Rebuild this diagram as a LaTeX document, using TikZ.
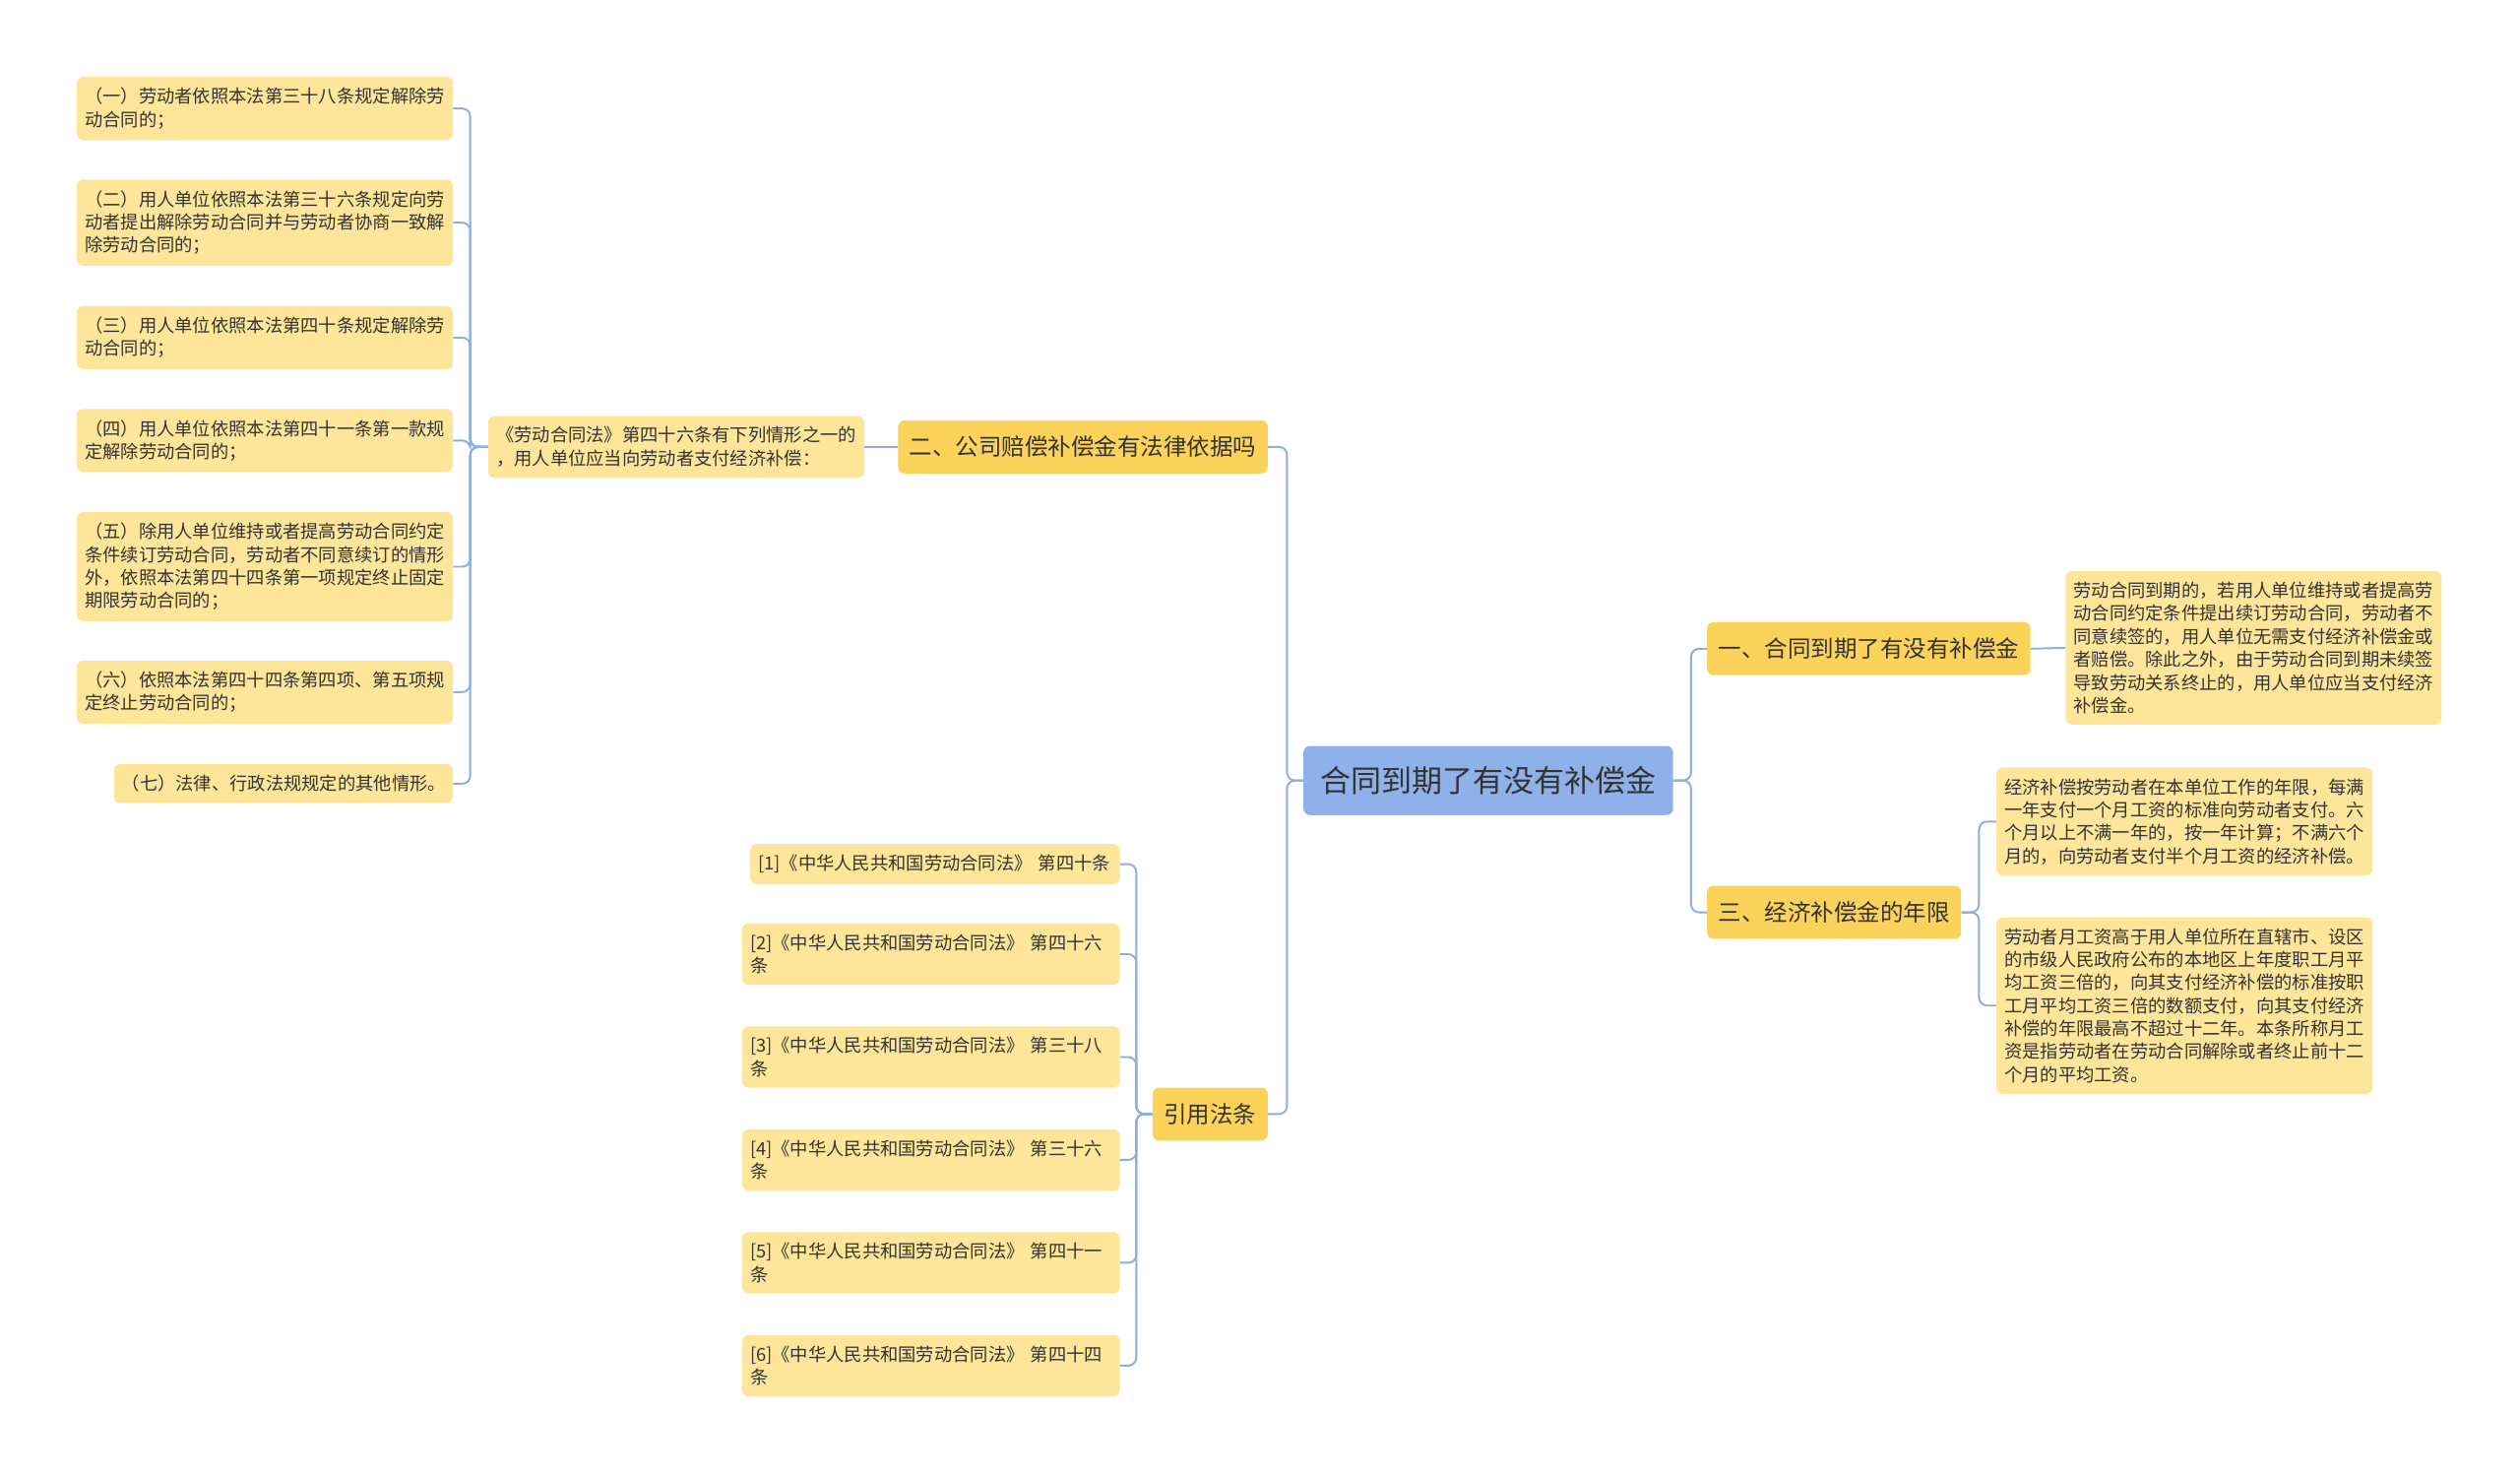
\documentclass[tikz,border=0pt]{standalone}
\usepackage{fontspec}
\setmainfont{Noto Sans CJK SC}
\definecolor{rootblue}{HTML}{8FB1EA}
\definecolor{topicyellow}{HTML}{FCD35A}
\definecolor{leafyellow}{HTML}{FDE699}
\definecolor{linkblue}{HTML}{8DAEE0}
\definecolor{textdark}{HTML}{333333}
\tikzset{
  rootbox/.style={fill=rootblue, rounded corners=4pt, text=textdark,
    font=\fontsize{19}{22}\selectfont, minimum height=43pt, inner xsep=10.5pt},
  topicbox/.style={fill=topicyellow, rounded corners=4pt, text=textdark,
    font=\fontsize{14.4}{17}\selectfont, minimum height=33pt, inner xsep=7pt},
  leafbox/.style={fill=leafyellow, rounded corners=4pt, text=textdark,
    font=\fontsize{11.2}{14.3}\selectfont, align=left, text width=224pt,
    inner xsep=5pt, inner ysep=6.8pt},
  link/.style={draw=linkblue, line width=1.2pt, rounded corners=5pt}
}
\begin{document}
\begin{tikzpicture}[x=1pt,y=-1pt]
\fill[white] (0,0) rectangle (1568,918.2);
\node[rootbox] (root) at (926,485.5) {合同到期了有没有补偿金};
\node[topicbox,anchor=west] (t1) at (1062,403.5) {一、合同到期了有没有补偿金};
\node[topicbox,anchor=west] (t3) at (1062,567.5) {三、经济补偿金的年限};
\node[topicbox,anchor=east] (t2) at (789,278) {二、公司赔偿补偿金有法律依据吗};
\node[topicbox,anchor=east] (cite) at (789,693) {引用法条};
\node[leafbox,anchor=west] (t1a) at (1285,403) {劳动合同到期的，若用人单位维持或者提高劳\\动合同约定条件提出续订劳动合同，劳动者不\\同意续签的，用人单位无需支付经济补偿金或\\者赔偿。除此之外，由于劳动合同到期未续签\\导致劳动关系终止的，用人单位应当支付经济\\补偿金。};
\node[leafbox,anchor=west] (t3a) at (1242,511) {经济补偿按劳动者在本单位工作的年限，每满\\一年支付一个月工资的标准向劳动者支付。六\\个月以上不满一年的，按一年计算；不满六个\\月的，向劳动者支付半个月工资的经济补偿。};
\node[leafbox,anchor=west] (t3b) at (1242,625.5) {劳动者月工资高于用人单位所在直辖市、设区\\的市级人民政府公布的本地区上年度职工月平\\均工资三倍的，向其支付经济补偿的标准按职\\工月平均工资三倍的数额支付，向其支付经济\\补偿的年限最高不超过十二年。本条所称月工\\资是指劳动者在劳动合同解除或者终止前十二\\个月的平均工资。};
\node[leafbox,anchor=east] (t2a) at (538,278) {《劳动合同法》第四十六条有下列情形之一的\\，用人单位应当向劳动者支付经济补偿：};
\node[leafbox,anchor=east] (c1) at (282,67.5) {（一）劳动者依照本法第三十八条规定解除劳\\动合同的；};
\node[leafbox,anchor=east] (c2) at (282,138.5) {（二）用人单位依照本法第三十六条规定向劳\\动者提出解除劳动合同并与劳动者协商一致解\\除劳动合同的；};
\node[leafbox,anchor=east] (c3) at (282,210) {（三）用人单位依照本法第四十条规定解除劳\\动合同的；};
\node[leafbox,anchor=east] (c4) at (282,274) {（四）用人单位依照本法第四十一条第一款规\\定解除劳动合同的；};
\node[leafbox,anchor=east] (c5) at (282,352.5) {（五）除用人单位维持或者提高劳动合同约定\\条件续订劳动合同，劳动者不同意续订的情形\\外，依照本法第四十四条第一项规定终止固定\\期限劳动合同的；};
\node[leafbox,anchor=east] (c6) at (282,430.5) {（六）依照本法第四十四条第四项、第五项规\\定终止劳动合同的；};
\node[leafbox,anchor=east,text width=201pt] (c7) at (282,487.5) {（七）法律、行政法规规定的其他情形。};
\node[leafbox,anchor=east,text width=220pt] (r1) at (697,537.5) {[1]《中华人民共和国劳动合同法》 第四十条};
\node[leafbox,anchor=east,text width=225pt] (r2) at (697,593.5) {[2]《中华人民共和国劳动合同法》 第四十六\\条};
\node[leafbox,anchor=east,text width=225pt] (r3) at (697,657.5) {[3]《中华人民共和国劳动合同法》 第三十八\\条};
\node[leafbox,anchor=east,text width=225pt] (r4) at (697,721.5) {[4]《中华人民共和国劳动合同法》 第三十六\\条};
\node[leafbox,anchor=east,text width=225pt] (r5) at (697,785.5) {[5]《中华人民共和国劳动合同法》 第四十一\\条};
\node[leafbox,anchor=east,text width=225pt] (r6) at (697,849.5) {[6]《中华人民共和国劳动合同法》 第四十四\\条};
\draw[link] (root.west) -- ++(-10,0) |- (t2.east);
\draw[link] (root.west) -- ++(-10,0) |- (cite.east);
\draw[link] (root.east) -- ++(11,0) |- (t1.west);
\draw[link] (root.east) -- ++(11,0) |- (t3.west);
\draw[link] (t1.east) -- (t1a.west);
\draw[link] (t3.east) -- ++(11,0) |- (t3a.west);
\draw[link] (t3.east) -- ++(11,0) |- (t3b.west);
\draw[link] (t2.west) -- (t2a.east);
\foreach \c in {c1,c2,c3,c4,c5,c6,c7}
  \draw[link] (t2a.west) -- ++(-11,0) |- (\c.east);
\foreach \r in {r1,r2,r3,r4,r5,r6}
  \draw[link] (cite.west) -- ++(-10,0) |- (\r.east);
\end{tikzpicture}
\end{document}
